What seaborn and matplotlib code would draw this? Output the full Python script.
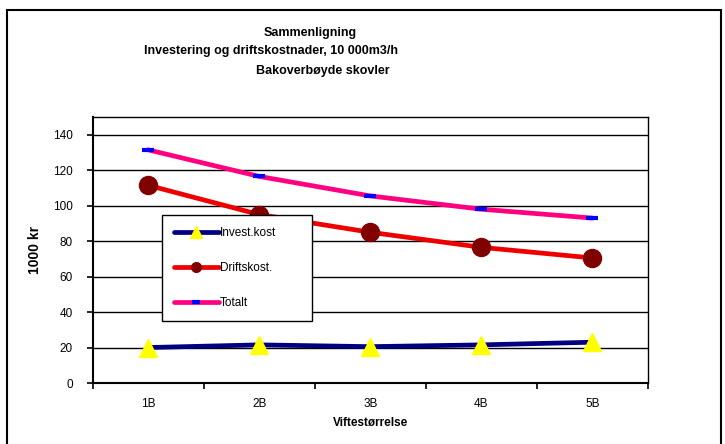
import pandas as pd
import seaborn as sns
import matplotlib.pyplot as plt
from matplotlib.patches import Rectangle

# data
categories = ["1B", "2B", "3B", "4B", "5B"]
invest = [20, 21.5, 20.5, 21.5, 23]
drift = [111.5, 95, 85, 76.5, 70.5]
totalt = [131.5, 116.5, 105.5, 98, 93]

series_names = ["Invest.kost", "Driftskost.", "Totalt"]
line_colors = ["#000080", "#ee0000", "#ff0080"]

df = pd.DataFrame({
    "Viftestørrelse": categories * 3,
    "verdi": invest + drift + totalt,
    "serie": [s for s in series_names for _ in categories],
})

sns.set_theme(style="white")
plt.rcParams["font.family"] = ["Liberation Sans", "DejaVu Sans"]
plt.rcParams["text.color"] = "black"
plt.rcParams["axes.labelcolor"] = "black"

fig = plt.figure(figsize=(7.25, 4.44), dpi=100)
ax = fig.add_axes([92.5 / 725, 1 - 383 / 444, 555.5 / 725, 266 / 444])

sns.lineplot(data=df, x="Viftestørrelse", y="verdi", hue="serie",
             palette=dict(zip(series_names, line_colors)), sort=False,
             linewidth=3.4, legend=False, ax=ax)

# markers, like the old spreadsheet chart
marker_styles = {
    "Invest.kost": dict(marker="^", ms=13, mfc="yellow", mec="yellow"),
    "Driftskost.": dict(marker="o", ms=13, mfc="#800000", mec="#800000"),
    "Totalt": dict(marker="_", ms=8, mew=3, mfc="blue", mec="blue"),
}
legend_marker = {
    "Invest.kost": dict(marker="^", ms=8.5, mfc="yellow", mec="yellow"),
    "Driftskost.": dict(marker="o", ms=7, mfc="#800000", mec="#800000"),
    "Totalt": dict(marker="_", ms=5.5, mew=3, mfc="blue", mec="blue"),
}
handles = []
for name, color, vals in zip(series_names, line_colors, [invest, drift, totalt]):
    ax.plot(categories, vals, linestyle="none", zorder=4, **marker_styles[name])
    h, = ax.plot([], [], color=color, lw=3.4, **legend_marker[name])
    handles.append(h)

ax.set_ylim(0, 150)
ax.set_xlim(-0.5, 4.5)
ax.set_yticks(range(0, 141, 20))
ax.yaxis.grid(True, color="black", linewidth=1)
ax.set_axisbelow(True)
for side in ["left", "bottom", "top", "right"]:
    ax.spines[side].set_color("black")
    ax.spines[side].set_linewidth(1)
ax.spines["left"].set_linewidth(1.5)
ax.spines["bottom"].set_linewidth(1.5)

ax.tick_params(axis="y", direction="out", length=4, width=1.2, color="black",
               left=True, labelsize=8.5, pad=10, labelcolor="black")
ax.set_xticks(range(len(categories)))
ax.set_xticklabels(categories)
ax.set_xticks([i - 0.5 for i in range(len(categories) + 1)], minor=True)
ax.tick_params(axis="x", which="major", length=0, labelsize=8.5, pad=11,
               labelcolor="black")
ax.tick_params(axis="x", which="minor", direction="out", length=4, width=1.2,
               color="black", bottom=True)

ax.set_xlabel("Viftestørrelse", fontsize=8.5, fontweight="bold", labelpad=5)
ax.set_ylabel("1000 kr", fontsize=10, fontweight="bold", labelpad=8)

leg = ax.legend(handles, series_names, loc="upper left",
                bbox_to_anchor=(0.125, 0.22, 0.27, 0.41), mode="expand",
                frameon=True, fancybox=False, edgecolor="black",
                framealpha=1, facecolor="white",
                fontsize=8.5, handlelength=3.8, handletextpad=0.1,
                labelspacing=1.95, borderpad=1.0, borderaxespad=0)
leg.get_frame().set_linewidth(1)

# title lines sit at their own positions in the reference
fig.text(310 / 725, 1 - 33 / 444, "Sammenligning", ha="center", va="center",
         fontsize=9, fontweight="bold")
fig.text(271 / 725, 1 - 51 / 444, "Investering og driftskostnader, 10 000m3/h",
         ha="center", va="center", fontsize=9, fontweight="bold")
fig.text(323 / 725, 1 - 71 / 444, "Bakoverbøyde skovler", ha="center",
         va="center", fontsize=9, fontweight="bold")

# outer chart frame
fig.patches.append(Rectangle((7 / 725, -0.1), 714 / 725, 1.1 - 10 / 444,
                             transform=fig.transFigure, fill=False,
                             edgecolor="black", linewidth=1.5))

fig.savefig("out.png", dpi=100)
